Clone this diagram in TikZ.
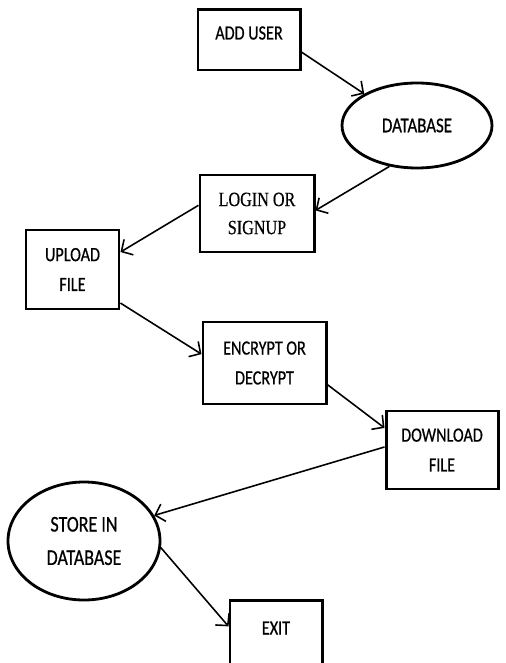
\documentclass[tikz,border=0pt]{standalone}
\usepackage{fontspec}
\setmainfont[FakeStretch=0.8,FakeBold=0.6]{Carlito}
\newfontfamily\narrowserif[FakeStretch=0.8,FakeBold=0.4]{Liberation Serif}
\usetikzlibrary{arrows.meta,positioning,shapes.geometric}

\begin{document}
\begin{tikzpicture}[>={Straight Barb[length=1.7mm,width=3.6mm]}, line width=0.9pt, on grid,
  bx/.style={rectangle,draw,line width=1.7pt,inner sep=0pt,align=center,font=\fontsize{11.5}{17}\selectfont},
  el/.style={ellipse,draw,line width=1.6pt,inner sep=0pt,align=center,font=\fontsize{12}{18}\selectfont}]
  \useasboundingbox (0,0) rectangle (10.1,-13.26);
  \node[bx, minimum width=2.04cm, text height=0.59cm, text depth=0.61cm] (add) at (4.98,-0.8) {ADD USER};
  \node[el, minimum width=3.0cm, minimum height=1.7cm, below right=1.71cm and 3.36cm of add] (db) {DATABASE};
  \node[bx, minimum width=2.28cm, minimum height=1.54cm, below left=1.76cm and 3.2cm of db,
    font=\narrowserif\fontsize{11.5}{16}\selectfont] (login) {LOGIN OR\\SIGNUP};
  \node[bx, minimum width=1.86cm, minimum height=1.58cm, below left=1.12cm and 3.69cm of login] (upload) {UPLOAD\\FILE};
  \node[bx, minimum width=2.46cm, minimum height=1.64cm, below right=1.87cm and 3.84cm of upload] (encrypt) {ENCRYPT OR\\DECRYPT};
  \node[bx, minimum width=2.24cm, minimum height=1.56cm, below right=1.74cm and 3.55cm of encrypt] (download) {DOWNLOAD\\FILE};
  \node[el, minimum width=3.04cm, minimum height=2.36cm, below left=1.82cm and 7.16cm of download,
    font=\fontsize{12.8}{19}\selectfont] (store) {STORE IN\\DATABASE};
  \node[bx, minimum width=1.84cm, text height=0.69cm, text depth=0.91cm, below right=1.98cm and 3.84cm of store] (exit) {EXIT};
  \draw[->] (add.-13) -- (db.149);
  \draw[->] (db.236) -- (login.3);
  \draw[->] (login.172) -- (upload.20);
  \draw[->] (upload.-35) -- (encrypt.172);
  \draw[->] (encrypt.-19) -- (download.159);
  \draw[->] (download.177) -- (store.20);
  \draw[->] (store.-5) -- (exit.164);
\end{tikzpicture}
\end{document}
